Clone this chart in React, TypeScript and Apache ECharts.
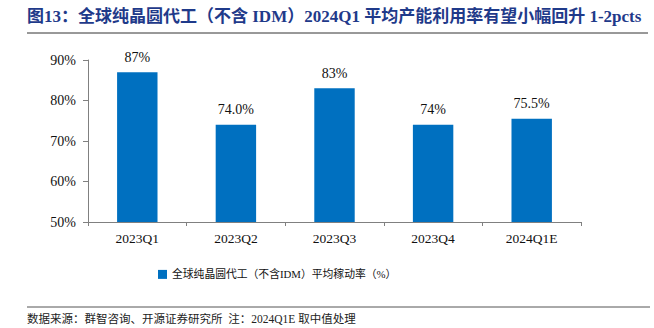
import React, { useEffect, useRef } from "react";
import * as echarts from "echarts";

const categories = ["2023Q1", "2023Q2", "2023Q3", "2023Q4", "2024Q1E"];
const utilization = [87, 74, 83, 74, 75.5];
const valueLabels = ["87%", "74.0%", "83%", "74%", "75.5%"];
const seriesName = "全球纯晶圆代工（不含IDM）平均稼动率（%）";
const titleText = "图13：全球纯晶圆代工（不含 IDM）2024Q1 平均产能利用率有望小幅回升 1-2pcts";
const footerText = "数据来源：群智咨询、开源证券研究所  注：2024Q1E 取中值处理";

const serif = "'Liberation Serif', 'Times New Roman', 'Noto Sans CJK SC', serif";

export default function App() {
  const ref = useRef<HTMLDivElement>(null);
  useEffect(() => {
    if (!ref.current) return;
    const chart = echarts.init(ref.current, undefined, { renderer: "svg" });
    chart.setOption({
      animation: false,
      backgroundColor: "#ffffff",
      textStyle: { fontFamily: serif },
      grid: { left: 88, right: 73, top: 60, bottom: 106 },
      legend: {
        data: [seriesName],
        left: 153,
        top: 264,
        padding: 5,
        itemWidth: 9,
        itemHeight: 9,
        icon: "rect",
        itemGap: 4,
        textStyle: { fontSize: 10.8, color: "#111", fontFamily: serif },
      },
      xAxis: {
        type: "category",
        data: categories,
        axisLine: { lineStyle: { color: "#808080" } },
        axisTick: { show: true, alignWithLabel: false, length: 4, lineStyle: { color: "#808080" } },
        axisLabel: { color: "#111", fontSize: 13.5, margin: 10, fontFamily: serif },
      },
      yAxis: {
        type: "value",
        min: 50,
        max: 90,
        interval: 10,
        axisLine: { show: true, lineStyle: { color: "#808080" } },
        axisTick: { show: true, inside: false, length: 5, lineStyle: { color: "#808080" } },
        splitLine: { show: false },
        axisLabel: { color: "#111", fontSize: 14, margin: 12, formatter: "{value}%", fontFamily: serif },
      },
      series: [
        {
          name: seriesName,
          type: "bar",
          data: utilization,
          barWidth: "41%",
          itemStyle: { color: "#0070C0" },
          label: {
            show: true,
            position: "top",
            distance: 8,
            fontSize: 14,
            color: "#111",
            fontFamily: serif,
            formatter: (p: any) => valueLabels[p.dataIndex],
          },
        },
      ],
      graphic: [
        {
          type: "text",
          left: 27,
          top: 8,
          style: {
            text: titleText,
            fontSize: 17,
            fontWeight: "bold",
            fill: "#1F3A8A",
            fontFamily: serif,
          },
        },
        {
          type: "line",
          shape: { x1: 27, y1: 33, x2: 648, y2: 33 },
          style: { stroke: "#333", lineWidth: 1 },
        },
        {
          type: "line",
          shape: { x1: 27, y1: 307, x2: 650, y2: 307 },
          style: { stroke: "#555", lineWidth: 1 },
        },
        {
          type: "text",
          left: 27,
          top: 313,
          style: {
            text: footerText,
            fontSize: 11.5,
            fill: "#222",
            fontFamily: serif,
          },
        },
      ],
    });
    return () => chart.dispose();
  }, []);
  return <div ref={ref} style={{ width: 654, height: 328, position: "absolute", left: 0, top: 0 }} />;
}
